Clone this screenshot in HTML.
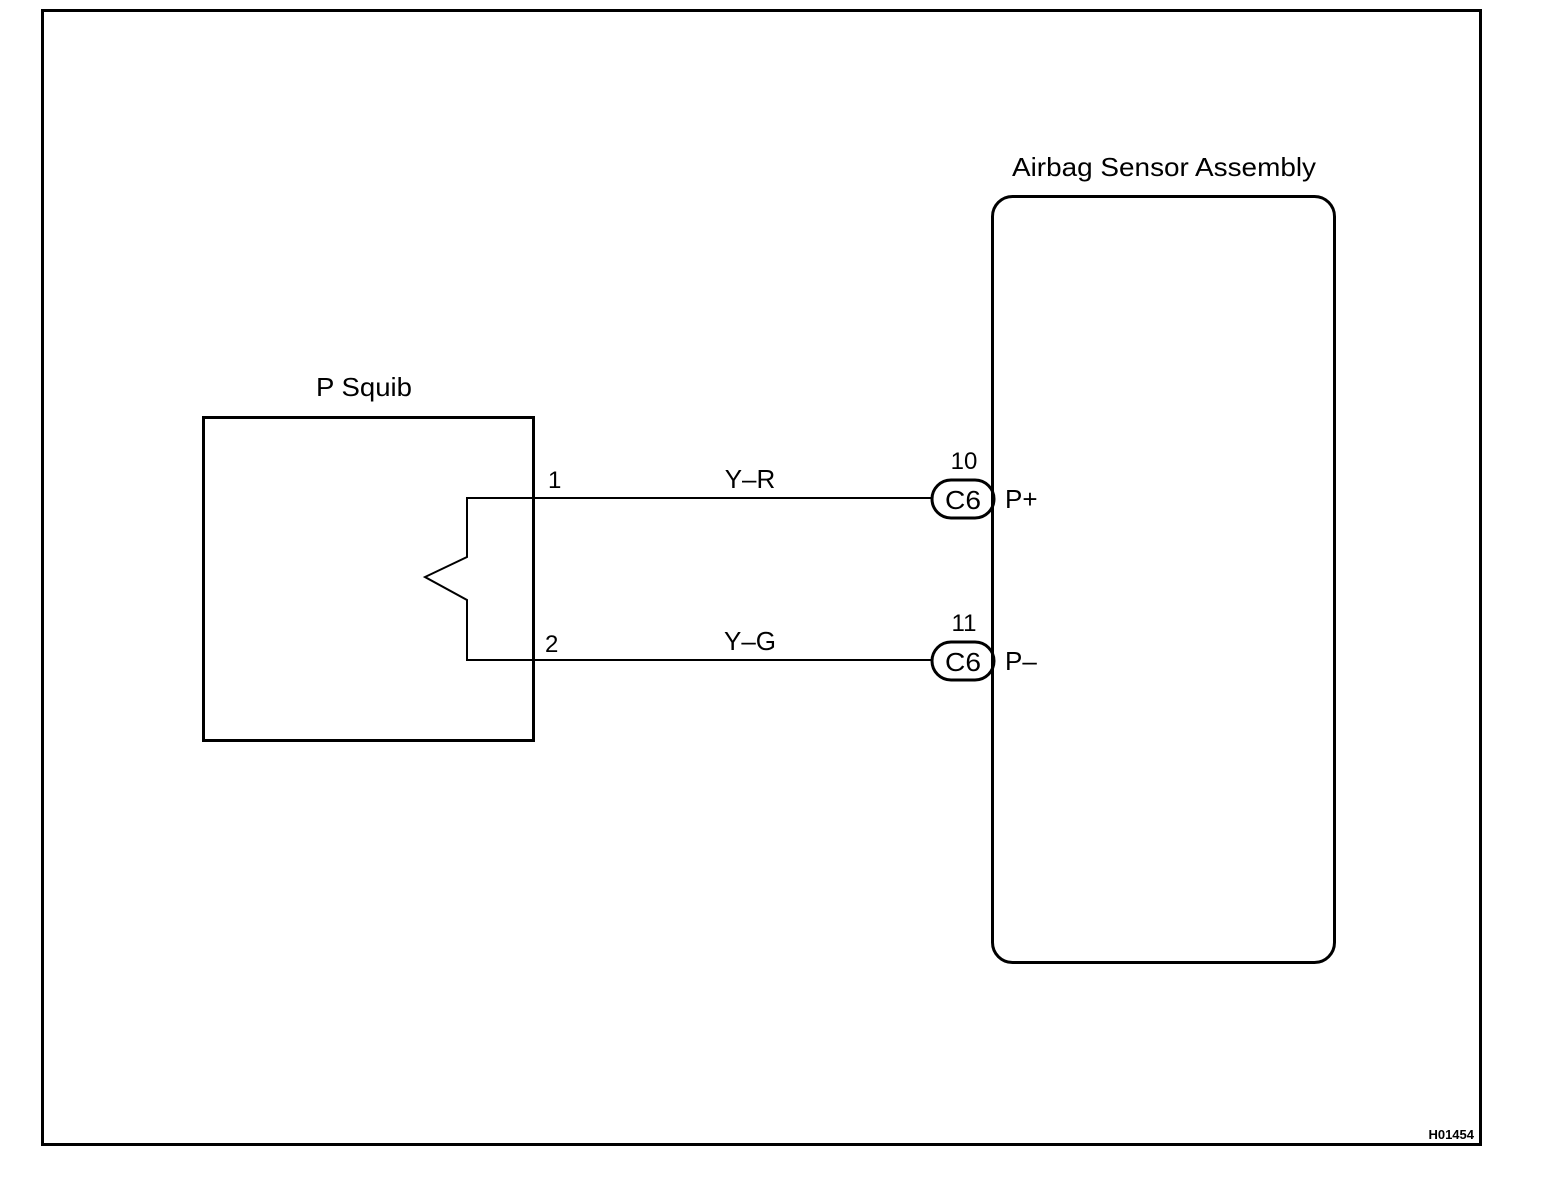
<!DOCTYPE html>
<html><head><style>
html,body{margin:0;padding:0;background:#fff;}
svg{display:block;}
text{font-family:"Liberation Sans",Arial,sans-serif;fill:#000;}
</style></head><body>
<svg width="1568" height="1178" viewBox="0 0 1568 1178" xmlns="http://www.w3.org/2000/svg">
<rect x="0" y="0" width="1568" height="1178" fill="#fff"/>
<rect x="42.5" y="10.5" width="1438" height="1134" fill="none" stroke="#000" stroke-width="3"/>
<rect x="203.5" y="417.5" width="330" height="323" fill="none" stroke="#000" stroke-width="3"/>
<rect x="992.5" y="196.5" width="342" height="766" rx="20" fill="none" stroke="#000" stroke-width="3"/>
<polyline points="933,498 467,498 467,557 425,577 467,600 467,660 933,660" fill="none" stroke="#000" stroke-width="2"/>
<rect x="932" y="480" width="62" height="38" rx="19" fill="#fff" stroke="#000" stroke-width="3"/>
<rect x="932" y="642" width="62" height="38" rx="19" fill="#fff" stroke="#000" stroke-width="3"/>
<line x1="992.5" y1="216" x2="992.5" y2="942" stroke="#000" stroke-width="3"/>
<text x="963" y="509" font-size="26" text-anchor="middle" textLength="36" lengthAdjust="spacingAndGlyphs">C6</text>
<text x="963" y="671" font-size="26" text-anchor="middle" textLength="36" lengthAdjust="spacingAndGlyphs">C6</text>
<text x="964" y="469" font-size="24" text-anchor="middle">10</text>
<text x="964" y="631" font-size="24" text-anchor="middle">11</text>
<text x="1005" y="508" font-size="26">P+</text>
<text x="1005" y="670" font-size="26">P–</text>
<text x="750" y="488" font-size="26" text-anchor="middle">Y–R</text>
<text x="750" y="650" font-size="26" text-anchor="middle">Y–G</text>
<text x="548" y="488" font-size="24">1</text>
<text x="545" y="652" font-size="24">2</text>
<text x="364" y="396" font-size="26" text-anchor="middle" textLength="96" lengthAdjust="spacingAndGlyphs">P Squib</text>
<text x="1164" y="176" font-size="26" text-anchor="middle" textLength="304" lengthAdjust="spacingAndGlyphs">Airbag Sensor Assembly</text>
<text x="1474" y="1139" font-size="13" font-weight="bold" text-anchor="end">H01454</text>
</svg>
</body></html>
